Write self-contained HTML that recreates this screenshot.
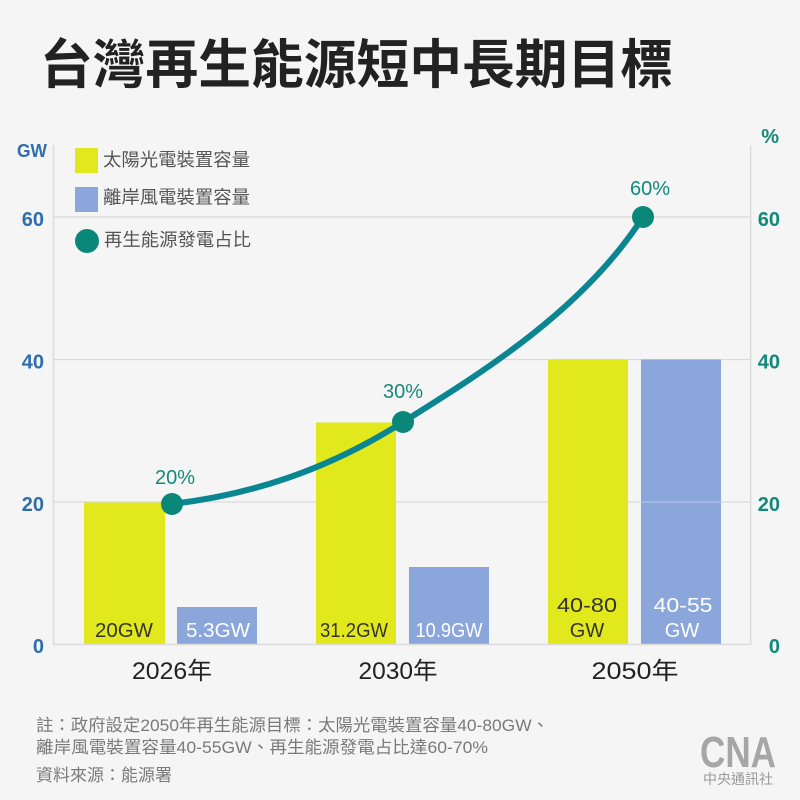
<!DOCTYPE html>
<html>
<head>
<meta charset="utf-8">
<style>
  html,body{margin:0;padding:0;background:#f5f5f5;}
  svg{display:block;}
  text{font-family:"Liberation Sans","Noto Sans CJK TC",sans-serif;}
</style>
</head>
<body>
<svg width="800" height="800" viewBox="0 0 800 800" xmlns="http://www.w3.org/2000/svg">
  <rect x="0" y="0" width="800" height="800" fill="#f5f5f5"/>

  <!-- Title -->
  <text x="40" y="83" font-size="53" font-weight="bold" fill="#222" textLength="633" lengthAdjust="spacingAndGlyphs" style="font-family:'Noto Sans CJK TC','Liberation Sans',sans-serif;">台灣再生能源短中長期目標</text>

  <!-- gridlines -->
  <g stroke="#dadada" stroke-width="1.2">
    <line x1="53" y1="217" x2="751" y2="217"/>
    <line x1="53" y1="359.5" x2="751" y2="359.5"/>
    <line x1="53" y1="502" x2="751" y2="502"/>
  </g>
  <!-- axes -->
  <g stroke="#dcdcdc" stroke-width="1.5">
    <line x1="53.5" y1="145" x2="53.5" y2="645"/>
    <line x1="750.7" y1="145" x2="750.7" y2="645"/>
  </g>

  <!-- bars -->
  <rect x="84" y="502.5" width="81" height="141.5" fill="#e1e81c"/>
  <rect x="177" y="607" width="80" height="37" fill="#8aa6db"/>
  <rect x="316" y="422.5" width="80" height="221.5" fill="#e1e81c"/>
  <rect x="409" y="567" width="80" height="77" fill="#8aa6db"/>
  <rect x="548" y="359.5" width="80" height="284.5" fill="#e1e81c"/>
  <rect x="641" y="359.5" width="80" height="284.5" fill="#8aa6db"/>
  <line x1="641" y1="502" x2="721" y2="502" stroke="#ffffff" stroke-opacity="0.4" stroke-width="1"/>

  <!-- baseline -->
  <line x1="53" y1="644.5" x2="751" y2="644.5" stroke="#dcdcdc" stroke-width="1.5"/>

  <!-- bar labels -->
  <g font-size="20">
    <text x="124" y="637" text-anchor="middle" fill="#333" textLength="58" lengthAdjust="spacingAndGlyphs">20GW</text>
    <text x="218" y="637" text-anchor="middle" fill="#fff" textLength="64" lengthAdjust="spacingAndGlyphs">5.3GW</text>
    <text x="354" y="637" text-anchor="middle" fill="#333" textLength="68" lengthAdjust="spacingAndGlyphs">31.2GW</text>
    <text x="449" y="637" text-anchor="middle" fill="#fff" textLength="67" lengthAdjust="spacingAndGlyphs">10.9GW</text>
    <text x="587" y="612" text-anchor="middle" fill="#333" textLength="60" lengthAdjust="spacingAndGlyphs">40-80</text>
    <text x="587" y="637" text-anchor="middle" fill="#333">GW</text>
    <text x="683" y="612" text-anchor="middle" fill="#fff" textLength="59" lengthAdjust="spacingAndGlyphs">40-55</text>
    <text x="682" y="637" text-anchor="middle" fill="#fff">GW</text>
  </g>

  <!-- curve -->
  <path d="M172,504 C249,495 326,471 403,422 C483,372 583,310 643,217" fill="none" stroke="#0a8592" stroke-width="6" stroke-linecap="round"/>
  <circle cx="172" cy="504" r="11" fill="#0b877a"/>
  <circle cx="403" cy="422" r="11" fill="#0b877a"/>
  <circle cx="643" cy="217" r="11" fill="#0b877a"/>

  <!-- percent labels -->
  <g font-size="20" fill="#138a7b" text-anchor="middle">
    <text x="175" y="484">20%</text>
    <text x="403" y="398">30%</text>
    <text x="650" y="195">60%</text>
  </g>

  <!-- left axis labels -->
  <g font-size="20" font-weight="bold" fill="#2f6ead">
    <text x="17" y="157" textLength="30" lengthAdjust="spacingAndGlyphs" font-size="18">GW</text>
    <text x="44" y="226" text-anchor="end">60</text>
    <text x="44" y="368.5" text-anchor="end">40</text>
    <text x="44" y="511" text-anchor="end">20</text>
    <text x="44" y="653" text-anchor="end">0</text>
  </g>
  <!-- right axis labels -->
  <g font-size="20" font-weight="bold" fill="#128a7a">
    <text x="779" y="143" text-anchor="end">%</text>
    <text x="780" y="226" text-anchor="end">60</text>
    <text x="780" y="368.5" text-anchor="end">40</text>
    <text x="780" y="511" text-anchor="end">20</text>
    <text x="780" y="653" text-anchor="end">0</text>
  </g>

  <!-- legend -->
  <rect x="75" y="148" width="23" height="25" fill="#e1e81c"/>
  <rect x="75" y="187" width="23" height="25" fill="#8aa6db"/>
  <circle cx="87" cy="241" r="12" fill="#0b877a"/>
  <g font-size="18" fill="#555">
    <text x="103" y="166" textLength="147" lengthAdjust="spacingAndGlyphs">太陽光電裝置容量</text>
    <text x="103" y="203.5" textLength="147" lengthAdjust="spacingAndGlyphs">離岸風電裝置容量</text>
    <text x="104" y="246" textLength="147" lengthAdjust="spacingAndGlyphs">再生能源發電占比</text>
  </g>

  <!-- year labels -->
  <g font-size="24" fill="#222" text-anchor="middle">
    <text x="172" y="679" textLength="80" lengthAdjust="spacingAndGlyphs">2026年</text>
    <text x="398" y="679" textLength="79" lengthAdjust="spacingAndGlyphs">2030年</text>
    <text x="635" y="679" textLength="87" lengthAdjust="spacingAndGlyphs">2050年</text>
  </g>

  <!-- footer notes -->
  <g font-size="17" fill="#7a7a7a">
    <text x="36" y="731" textLength="513" lengthAdjust="spacingAndGlyphs">註：政府設定2050年再生能源目標：太陽光電裝置容量40-80GW、</text>
    <text x="36" y="753" textLength="452" lengthAdjust="spacingAndGlyphs">離岸風電裝置容量40-55GW、再生能源發電占比達60-70%</text>
    <text x="36" y="781" textLength="136" lengthAdjust="spacingAndGlyphs">資料來源：能源署</text>
  </g>

  <!-- CNA logo -->
  <g fill="#a6a6a6">
    <text x="700" y="767" font-size="44" font-weight="bold" textLength="76" lengthAdjust="spacingAndGlyphs">CNA</text>
    <text x="703" y="784" font-size="14" fill="#9a9a9a" textLength="70" lengthAdjust="spacingAndGlyphs">中央通訊社</text>
  </g>
</svg>
</body>
</html>
